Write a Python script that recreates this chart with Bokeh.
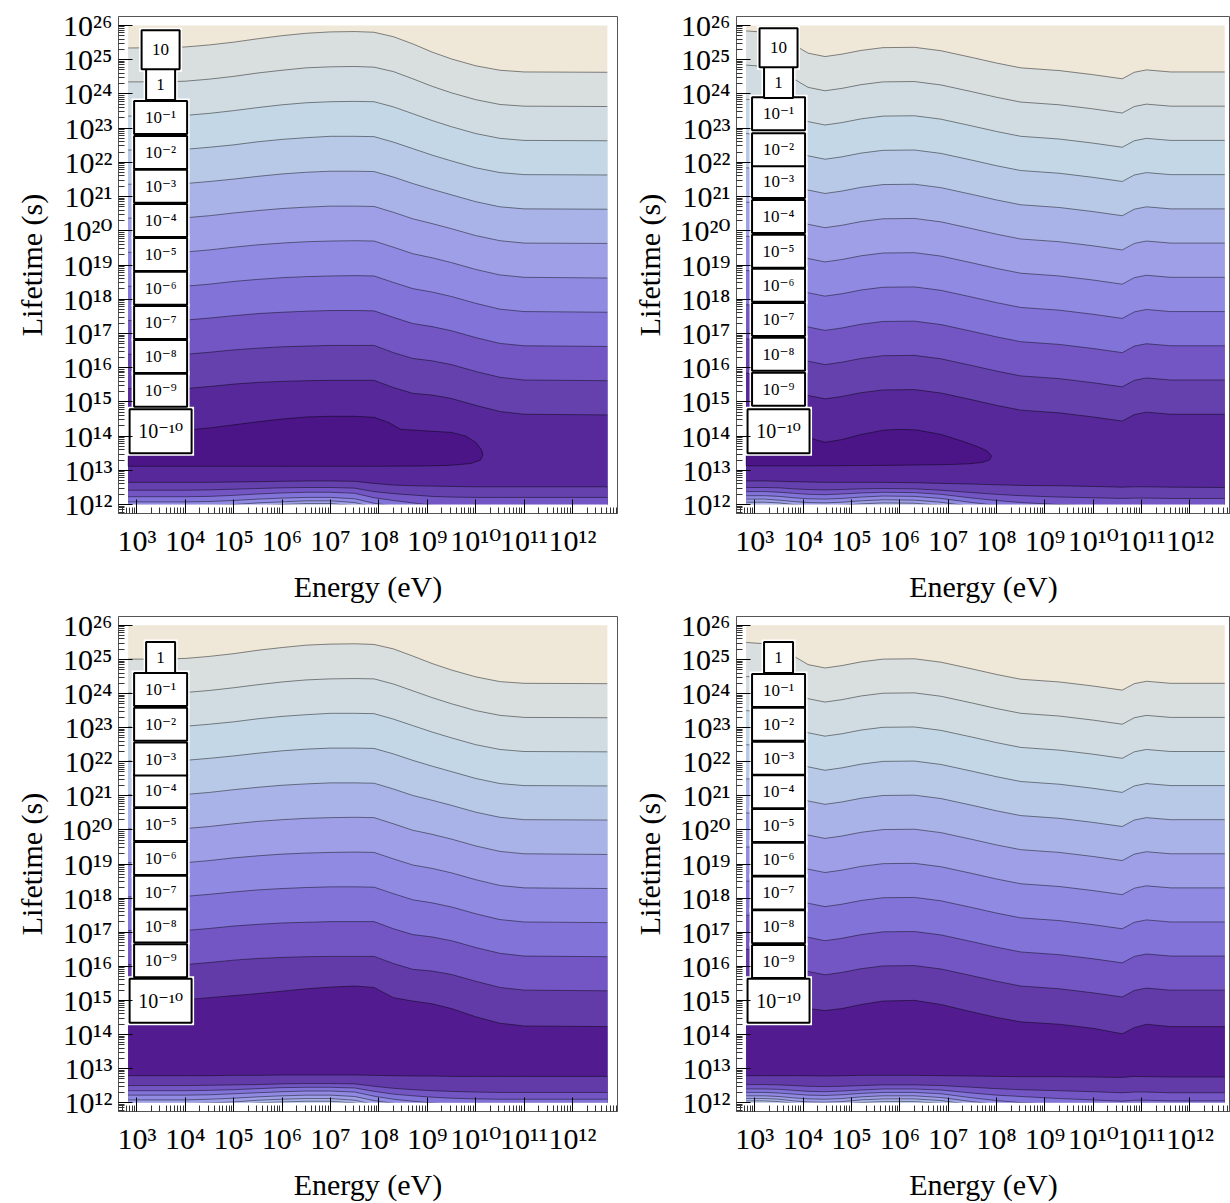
import numpy as np
from bokeh.plotting import figure
from bokeh.layouts import column, row
from bokeh.models import Range1d, FixedTicker, ColumnDataSource
from bokeh.embed import file_html
from bokeh.resources import INLINE
from bokeh.core.properties import value

# ---------------- data: log10(Energy / eV) and log10(Lifetime / s) -------------
E_A = [2.82, 3.5, 4.0, 4.5, 5.0, 5.5, 6.0, 6.5, 7.0, 7.5, 7.9, 8.3, 8.7, 9.1, 9.5, 10.0, 10.5, 11.0, 12.72]

# panel 1 (top left): upper contour branches, levels 10, 1, 1e-1 ... 1e-9
P1_UPPER = [
    [25.34, 25.35, 25.37, 25.43, 25.51, 25.61, 25.70, 25.77, 25.81, 25.82, 25.80, 25.67, 25.46, 25.22, 25.02, 24.82, 24.69, 24.64, 24.63],
    [24.35, 24.35, 24.37, 24.43, 24.51, 24.61, 24.69, 24.76, 24.79, 24.80, 24.78, 24.65, 24.44, 24.22, 24.03, 23.83, 23.69, 23.64, 23.63],
    [23.35, 23.36, 23.37, 23.43, 23.51, 23.60, 23.68, 23.74, 23.77, 23.78, 23.77, 23.62, 23.42, 23.22, 23.04, 22.84, 22.70, 22.64, 22.63],
    [22.36, 22.36, 22.38, 22.44, 22.51, 22.60, 22.67, 22.72, 22.76, 22.76, 22.75, 22.59, 22.40, 22.21, 22.04, 21.84, 21.70, 21.64, 21.63],
    [21.36, 21.37, 21.38, 21.44, 21.51, 21.59, 21.66, 21.71, 21.74, 21.74, 21.73, 21.57, 21.38, 21.21, 21.05, 20.85, 20.70, 20.64, 20.63],
    [20.37, 20.37, 20.38, 20.44, 20.52, 20.59, 20.65, 20.69, 20.72, 20.72, 20.71, 20.54, 20.35, 20.21, 20.06, 19.86, 19.71, 19.64, 19.63],
    [19.37, 19.37, 19.38, 19.44, 19.52, 19.59, 19.64, 19.68, 19.70, 19.71, 19.70, 19.52, 19.33, 19.21, 19.07, 18.87, 18.71, 18.64, 18.62],
    [18.38, 18.38, 18.38, 18.44, 18.52, 18.58, 18.63, 18.66, 18.68, 18.69, 18.68, 18.49, 18.31, 18.21, 18.08, 17.88, 17.71, 17.64, 17.62],
    [17.38, 17.38, 17.39, 17.45, 17.52, 17.58, 17.62, 17.65, 17.67, 17.67, 17.66, 17.47, 17.29, 17.20, 17.08, 16.88, 16.71, 16.64, 16.62],
    [16.39, 16.39, 16.39, 16.45, 16.52, 16.57, 16.61, 16.63, 16.65, 16.65, 16.65, 16.44, 16.27, 16.20, 16.09, 15.89, 15.72, 15.64, 15.62],
    [15.39, 15.39, 15.39, 15.45, 15.52, 15.57, 15.60, 15.62, 15.63, 15.63, 15.63, 15.42, 15.25, 15.20, 15.10, 14.90, 14.72, 14.64, 14.62],
]
# panel 1: closed 1e-10 contour
P1_BLOB_E = [2.82, 3.5, 4.0, 4.5, 5.0, 5.5, 6.0, 6.5, 7.0, 7.5, 7.9, 8.2, 8.45, 9.0, 9.5, 9.8, 10.0, 10.12, 10.15,
             10.1, 9.9, 9.5, 9.0, 8.0, 6.0, 4.0, 2.82]
P1_BLOB_T = [14.16, 14.16, 14.17, 14.24, 14.33, 14.42, 14.50, 14.56, 14.58, 14.58, 14.55, 14.40, 14.20, 14.15, 14.11, 14.00, 13.82, 13.60, 13.45,
             13.30, 13.20, 13.15, 13.13, 13.12, 13.12, 13.12, 13.12]
# panel 1: lower contour branches, levels 1e-9 ... 1e-4
P1_LOWER = [
    [12.65, 12.65, 12.65, 12.65, 12.66, 12.67, 12.68, 12.69, 12.69, 12.68, 12.62, 12.57, 12.55, 12.54, 12.53, 12.52, 12.52, 12.52, 12.52],
    [12.42, 12.42, 12.42, 12.43, 12.45, 12.47, 12.49, 12.50, 12.50, 12.48, 12.38, 12.32, 12.28, 12.24, 12.22, 12.21, 12.21, 12.21, 12.21],
    [12.23, 12.23, 12.23, 12.24, 12.27, 12.31, 12.34, 12.36, 12.36, 12.33, 12.20, 12.12, 12.05, 11.98, 11.95, 11.92, 11.90, 11.90, 11.90],
    [12.08, 12.08, 12.08, 12.09, 12.12, 12.16, 12.19, 12.21, 12.21, 12.17, 12.04, 11.96, 11.90, 11.85, 11.80, 11.80, 11.80, 11.80, 11.80],
    [11.95, 11.95, 11.95, 11.97, 12.00, 12.05, 12.08, 12.11, 12.11, 12.06, 11.93, 11.85, 11.80, 11.75, 11.70, 11.70, 11.70, 11.70, 11.70],
    [11.85, 11.85, 11.85, 11.87, 11.91, 11.96, 12.00, 12.03, 12.03, 11.97, 11.85, 11.77, 11.70, 11.65, 11.60, 11.60, 11.60, 11.60, 11.60],
]

# panel 3 (bottom left): upper branches, levels 1, 1e-1 ... 1e-10
P3_UPPER = [
    [25.01, 25.01, 25.03, 25.09, 25.17, 25.27, 25.35, 25.42, 25.45, 25.46, 25.44, 25.31, 25.10, 24.88, 24.69, 24.49, 24.35, 24.30, 24.29],
    [24.01, 24.02, 24.03, 24.09, 24.17, 24.26, 24.34, 24.40, 24.43, 24.44, 24.43, 24.28, 24.08, 23.88, 23.70, 23.50, 23.36, 23.30, 23.29],
    [23.02, 23.02, 23.04, 23.10, 23.17, 23.26, 23.33, 23.38, 23.42, 23.42, 23.41, 23.25, 23.06, 22.87, 22.70, 22.50, 22.36, 22.30, 22.29],
    [22.02, 22.03, 22.04, 22.10, 22.17, 22.25, 22.32, 22.37, 22.40, 22.40, 22.39, 22.23, 22.04, 21.87, 21.71, 21.51, 21.36, 21.30, 21.29],
    [21.03, 21.03, 21.04, 21.10, 21.18, 21.25, 21.31, 21.35, 21.38, 21.38, 21.37, 21.20, 21.01, 20.87, 20.72, 20.52, 20.37, 20.30, 20.29],
    [20.03, 20.03, 20.04, 20.10, 20.18, 20.25, 20.30, 20.34, 20.36, 20.37, 20.36, 20.18, 19.99, 19.87, 19.73, 19.53, 19.37, 19.30, 19.28],
    [19.04, 19.04, 19.04, 19.10, 19.18, 19.24, 19.29, 19.32, 19.34, 19.35, 19.34, 19.15, 18.97, 18.87, 18.74, 18.54, 18.37, 18.30, 18.28],
    [18.04, 18.04, 18.05, 18.11, 18.18, 18.24, 18.28, 18.31, 18.33, 18.33, 18.32, 18.13, 17.95, 17.86, 17.74, 17.54, 17.37, 17.30, 17.28],
    [17.05, 17.05, 17.05, 17.11, 17.18, 17.23, 17.27, 17.29, 17.31, 17.31, 17.31, 17.10, 16.93, 16.86, 16.75, 16.55, 16.38, 16.30, 16.28],
    [16.05, 16.05, 16.05, 16.11, 16.18, 16.23, 16.26, 16.28, 16.29, 16.29, 16.29, 16.08, 15.91, 15.86, 15.76, 15.56, 15.38, 15.30, 15.28],
    [15.00, 15.00, 15.02, 15.08, 15.14, 15.20, 15.27, 15.34, 15.39, 15.42, 15.38, 15.08, 14.98, 14.90, 14.76, 14.52, 14.33, 14.25, 14.23],
]
# panel 3: lower branches, levels 1e-10 ... 1e-4
P3_LOWER = [
    [12.79, 12.79, 12.79, 12.79, 12.80, 12.80, 12.81, 12.81, 12.81, 12.81, 12.80, 12.79, 12.78, 12.78, 12.77, 12.77, 12.77, 12.77, 12.77],
    [12.50, 12.50, 12.50, 12.51, 12.52, 12.53, 12.55, 12.56, 12.56, 12.55, 12.48, 12.42, 12.38, 12.35, 12.33, 12.31, 12.30, 12.30, 12.30],
    [12.35, 12.35, 12.35, 12.36, 12.38, 12.41, 12.44, 12.45, 12.45, 12.43, 12.33, 12.25, 12.20, 12.16, 12.13, 12.11, 12.10, 12.10, 12.10],
    [12.22, 12.22, 12.22, 12.23, 12.26, 12.29, 12.32, 12.34, 12.34, 12.31, 12.19, 12.10, 12.04, 11.99, 11.96, 11.95, 11.95, 11.95, 11.95],
    [12.08, 12.08, 12.08, 12.10, 12.13, 12.17, 12.20, 12.22, 12.22, 12.18, 12.06, 11.98, 11.90, 11.85, 11.80, 11.80, 11.80, 11.80, 11.80],
    [11.97, 11.97, 11.97, 11.99, 12.02, 12.07, 12.10, 12.12, 12.12, 12.07, 11.95, 11.87, 11.80, 11.75, 11.70, 11.70, 11.70, 11.70, 11.70],
    [11.88, 11.88, 11.88, 11.90, 11.94, 11.99, 12.02, 12.04, 12.04, 11.99, 11.86, 11.78, 11.70, 11.65, 11.60, 11.60, 11.60, 11.60, 11.60],
]

E_B = [2.82, 3.2, 3.5, 3.8, 4.1, 4.45, 4.8, 5.2, 5.65, 6.3, 6.85, 7.5, 8.0, 8.5, 9.3, 10.0, 10.6, 10.85, 11.1, 11.6, 12.72]

# panel 2 (top right): upper branches, levels 10, 1, 1e-1 ... 1e-9
P2_UPPER = [
    [25.84, 25.80, 25.67, 25.44, 25.19, 25.09, 25.16, 25.27, 25.35, 25.36, 25.26, 25.06, 24.90, 24.76, 24.68, 24.56, 24.44, 24.63, 24.70, 24.64, 24.64],
    [24.84, 24.80, 24.67, 24.44, 24.19, 24.09, 24.16, 24.27, 24.35, 24.36, 24.26, 24.06, 23.90, 23.76, 23.68, 23.56, 23.44, 23.63, 23.70, 23.64, 23.64],
    [23.84, 23.80, 23.67, 23.44, 23.19, 23.09, 23.16, 23.27, 23.35, 23.36, 23.26, 23.06, 22.90, 22.76, 22.68, 22.56, 22.44, 22.63, 22.70, 22.64, 22.64],
    [22.84, 22.80, 22.67, 22.44, 22.19, 22.09, 22.16, 22.27, 22.35, 22.36, 22.26, 22.06, 21.90, 21.76, 21.68, 21.56, 21.44, 21.63, 21.70, 21.64, 21.64],
    [21.84, 21.80, 21.67, 21.44, 21.19, 21.09, 21.16, 21.27, 21.35, 21.36, 21.26, 21.06, 20.90, 20.76, 20.68, 20.56, 20.44, 20.63, 20.70, 20.64, 20.64],
    [20.84, 20.80, 20.67, 20.44, 20.19, 20.09, 20.16, 20.27, 20.35, 20.36, 20.26, 20.06, 19.90, 19.76, 19.68, 19.56, 19.44, 19.63, 19.70, 19.64, 19.64],
    [19.84, 19.80, 19.67, 19.44, 19.19, 19.09, 19.16, 19.27, 19.35, 19.36, 19.26, 19.06, 18.90, 18.76, 18.68, 18.56, 18.44, 18.63, 18.70, 18.64, 18.64],
    [18.84, 18.80, 18.67, 18.44, 18.19, 18.09, 18.16, 18.27, 18.35, 18.36, 18.26, 18.06, 17.90, 17.76, 17.68, 17.56, 17.44, 17.63, 17.70, 17.64, 17.64],
    [17.84, 17.80, 17.67, 17.44, 17.19, 17.09, 17.16, 17.27, 17.35, 17.36, 17.26, 17.06, 16.90, 16.76, 16.68, 16.56, 16.44, 16.63, 16.70, 16.64, 16.64],
    [16.84, 16.80, 16.67, 16.44, 16.19, 16.09, 16.16, 16.27, 16.35, 16.36, 16.26, 16.06, 15.90, 15.76, 15.68, 15.56, 15.44, 15.63, 15.70, 15.64, 15.64],
    [15.84, 15.80, 15.67, 15.44, 15.19, 15.09, 15.16, 15.27, 15.35, 15.36, 15.26, 15.06, 14.90, 14.76, 14.68, 14.56, 14.44, 14.63, 14.70, 14.64, 14.64],
]
P2_BLOB_E = [2.82, 3.2, 3.5, 3.8, 4.1, 4.45, 4.8, 5.2, 5.65, 6.0, 6.35, 6.85, 7.3, 7.6, 7.8, 7.9,
             7.85, 7.7, 7.4, 7.0, 6.0, 5.0, 4.0, 2.82]
P2_BLOB_T = [14.05, 14.05, 14.02, 14.00, 13.96, 13.82, 13.90, 14.05, 14.17, 14.20, 14.18, 14.05, 13.85, 13.70, 13.57, 13.42,
             13.30, 13.23, 13.19, 13.17, 13.15, 13.14, 13.13, 13.13]
P2_LOWER = [
    [12.69, 12.69, 12.68, 12.67, 12.66, 12.65, 12.65, 12.65, 12.65, 12.64, 12.62, 12.60, 12.58, 12.56, 12.55, 12.53, 12.51, 12.52, 12.52, 12.51, 12.50],
    [12.50, 12.50, 12.49, 12.46, 12.44, 12.43, 12.44, 12.46, 12.47, 12.46, 12.42, 12.35, 12.30, 12.26, 12.22, 12.20, 12.18, 12.19, 12.19, 12.18, 12.18],
    [12.38, 12.38, 12.36, 12.33, 12.30, 12.29, 12.31, 12.34, 12.36, 12.35, 12.30, 12.19, 12.12, 12.06, 12.00, 11.96, 11.93, 11.93, 11.93, 11.93, 11.93],
    [12.26, 12.26, 12.24, 12.20, 12.17, 12.16, 12.18, 12.22, 12.25, 12.24, 12.18, 12.06, 11.98, 11.92, 11.86, 11.82, 11.80, 11.80, 11.80, 11.80, 11.80],
    [12.16, 12.16, 12.13, 12.09, 12.06, 12.05, 12.07, 12.11, 12.14, 12.13, 12.07, 11.95, 11.87, 11.80, 11.75, 11.70, 11.70, 11.70, 11.70, 11.70, 11.70],
    [12.07, 12.07, 12.05, 12.00, 11.97, 11.96, 11.98, 12.02, 12.05, 12.04, 11.98, 11.86, 11.78, 11.70, 11.65, 11.60, 11.60, 11.60, 11.60, 11.60, 11.60],
]

# panel 4 (bottom right): upper branches, levels 1, 1e-1 ... 1e-10
P4_UPPER = [
    [25.50, 25.46, 25.33, 25.10, 24.85, 24.75, 24.82, 24.93, 25.01, 25.02, 24.92, 24.72, 24.56, 24.42, 24.34, 24.22, 24.10, 24.29, 24.36, 24.30, 24.30],
    [24.50, 24.46, 24.33, 24.10, 23.85, 23.75, 23.82, 23.93, 24.01, 24.02, 23.92, 23.72, 23.56, 23.42, 23.34, 23.22, 23.10, 23.29, 23.36, 23.30, 23.30],
    [23.50, 23.46, 23.33, 23.10, 22.85, 22.75, 22.82, 22.93, 23.01, 23.02, 22.92, 22.72, 22.56, 22.42, 22.34, 22.22, 22.10, 22.29, 22.36, 22.30, 22.30],
    [22.50, 22.46, 22.33, 22.10, 21.85, 21.75, 21.82, 21.93, 22.01, 22.02, 21.92, 21.72, 21.56, 21.42, 21.34, 21.22, 21.10, 21.29, 21.36, 21.30, 21.30],
    [21.50, 21.46, 21.33, 21.10, 20.85, 20.75, 20.82, 20.93, 21.01, 21.02, 20.92, 20.72, 20.56, 20.42, 20.34, 20.22, 20.10, 20.29, 20.36, 20.30, 20.30],
    [20.50, 20.46, 20.33, 20.10, 19.85, 19.75, 19.82, 19.93, 20.01, 20.02, 19.92, 19.72, 19.56, 19.42, 19.34, 19.22, 19.10, 19.29, 19.36, 19.30, 19.30],
    [19.50, 19.46, 19.33, 19.10, 18.85, 18.75, 18.82, 18.93, 19.01, 19.02, 18.92, 18.72, 18.56, 18.42, 18.34, 18.22, 18.10, 18.29, 18.36, 18.30, 18.30],
    [18.50, 18.46, 18.33, 18.10, 17.85, 17.75, 17.82, 17.93, 18.01, 18.02, 17.92, 17.72, 17.56, 17.42, 17.34, 17.22, 17.10, 17.29, 17.36, 17.30, 17.30],
    [17.50, 17.46, 17.33, 17.10, 16.85, 16.75, 16.82, 16.93, 17.01, 17.02, 16.92, 16.72, 16.56, 16.42, 16.34, 16.22, 16.10, 16.29, 16.36, 16.30, 16.30],
    [16.50, 16.46, 16.33, 16.10, 15.85, 15.75, 15.82, 15.93, 16.01, 16.02, 15.92, 15.72, 15.56, 15.42, 15.34, 15.22, 15.10, 15.29, 15.36, 15.30, 15.30],
    [15.30, 15.25, 15.15, 14.95, 14.76, 14.70, 14.76, 14.88, 14.98, 15.00, 14.88, 14.66, 14.50, 14.37, 14.30, 14.18, 14.02, 14.20, 14.30, 14.23, 14.23],
]
P4_LOWER = [
    [12.79, 12.79, 12.79, 12.79, 12.79, 12.78, 12.79, 12.80, 12.80, 12.80, 12.79, 12.78, 12.77, 12.76, 12.76, 12.75, 12.74, 12.77, 12.76, 12.75, 12.75],
    [12.53, 12.53, 12.52, 12.50, 12.48, 12.47, 12.48, 12.50, 12.52, 12.52, 12.50, 12.45, 12.41, 12.38, 12.35, 12.32, 12.29, 12.31, 12.31, 12.29, 12.29],
    [12.40, 12.40, 12.39, 12.36, 12.33, 12.32, 12.34, 12.37, 12.40, 12.40, 12.37, 12.28, 12.22, 12.18, 12.12, 12.08, 12.04, 12.07, 12.07, 12.05, 12.05],
    [12.30, 12.30, 12.28, 12.25, 12.22, 12.21, 12.23, 12.27, 12.30, 12.30, 12.26, 12.14, 12.06, 12.00, 11.95, 11.90, 11.88, 11.90, 11.90, 11.90, 11.90],
    [12.20, 12.20, 12.18, 12.14, 12.11, 12.10, 12.12, 12.17, 12.20, 12.20, 12.15, 12.03, 11.95, 11.90, 11.85, 11.80, 11.80, 11.80, 11.80, 11.80, 11.80],
    [12.12, 12.12, 12.10, 12.05, 12.02, 12.01, 12.03, 12.08, 12.11, 12.11, 12.06, 11.94, 11.86, 11.80, 11.75, 11.70, 11.70, 11.70, 11.70, 11.70, 11.70],
    [12.05, 12.05, 12.03, 11.98, 11.95, 11.94, 11.96, 12.00, 12.03, 12.03, 11.98, 11.86, 11.78, 11.70, 11.65, 11.60, 11.60, 11.60, 11.60, 11.60, 11.60],
]

# contour label exponents and label positions (log10 lifetime at label centre)
LEVELS_TOP = [1, 0, -1, -2, -3, -4, -5, -6, -7, -8, -9, -10]
LEVELS_BOTTOM = [0, -1, -2, -3, -4, -5, -6, -7, -8, -9, -10]
LABEL_E = 3.49
P1_LABEL_T = [25.29, 24.27, 23.31, 22.29, 21.30, 20.30, 19.31, 18.32, 17.32, 16.33, 15.34, 14.14]
P2_LABEL_T = [25.35, 24.33, 23.42, 22.37, 21.44, 20.42, 19.40, 18.41, 17.41, 16.39, 15.37, 14.14]
P3_LABEL_T = [25.06, 24.12, 23.10, 22.08, 21.15, 20.16, 19.16, 18.17, 17.18, 16.16, 14.99]
P4_LABEL_T = [25.06, 24.09, 23.10, 22.10, 21.12, 20.13, 19.14, 18.15, 17.16, 16.14, 14.99]

X_TICKS = list(range(3, 13))
Y_TICKS = list(range(12, 27))

PAL_A = ["#EFE7D7", "#D9DEDE", "#D1DCE2", "#C4D7E6", "#B8C9E8", "#AAB3E8", "#9E9FE6",
         "#918AE2", "#8273D9", "#7356C4", "#6441AD", "#562899", "#4B1587"]
PAL_B = ["#EFE7D7", "#D9DEDE", "#D1DCE2", "#C4D7E6", "#B8C9E8", "#AAB3E8", "#9E9FE6",
         "#918AE2", "#8273D9", "#7356C4", "#633BA9", "#521C90"]

FONT = "Liberation Serif, DejaVu Serif"
SUP = str.maketrans("0123456789-", "⁰¹²³⁴⁵⁶⁷⁸⁹⁻")


def pow_label(n):
    return "10" + str(n).translate(SUP)


def level_label(n):
    if n == 0:
        return "1"
    if n == 1:
        return "10"
    return pow_label(n)


E_MIN, E_MAX, T_MIN, T_MAX = 2.82, 12.72, 12.0, 26.0


def make_fig(w, h, left, top, bottom, right, x_end):
    p = figure(width=w, height=h, x_range=Range1d(2.62, x_end), y_range=Range1d(11.74, 26.26),
               output_backend="svg", toolbar_location=None,
               min_border_left=left, min_border_right=right, min_border_top=top, min_border_bottom=bottom)
    p.xgrid.visible = False
    p.ygrid.visible = False
    p.background_fill_color = "white"
    p.border_fill_color = "white"
    p.outline_line_color = "#555555"
    p.outline_line_width = 1
    xminor = [n + np.log10(m) for n in range(2, 13) for m in range(2, 10)]
    xminor = [float(v) for v in xminor if 2.62 < v < x_end]
    yminor = [float(n + np.log10(m)) for n in range(11, 26) for m in range(2, 10)]
    yminor = [v for v in yminor if 11.74 < v < 26.26]
    p.xaxis.ticker = FixedTicker(ticks=X_TICKS, minor_ticks=xminor)
    p.yaxis.ticker = FixedTicker(ticks=Y_TICKS, minor_ticks=yminor)
    p.xaxis.major_label_overrides = {t: pow_label(t) for t in X_TICKS}
    p.yaxis.major_label_overrides = {t: pow_label(t) for t in Y_TICKS}
    p.xaxis.axis_label = "Energy (eV)"
    p.yaxis.axis_label = "Lifetime (s)"
    for ax in (p.xaxis[0], p.yaxis[0]):
        ax.major_tick_in = 14
        ax.major_tick_out = 0
        ax.minor_tick_in = 6
        ax.minor_tick_out = 0
        ax.major_tick_line_color = "black"
        ax.minor_tick_line_color = "#333333"
        ax.axis_line_color = "#555555"
        ax.major_label_text_font = FONT
        ax.major_label_text_font_size = "30px"
        ax.major_label_text_color = "black"
        ax.axis_label_text_font = FONT
        ax.axis_label_text_font_size = "30px"
        ax.axis_label_text_font_style = "normal"
        ax.axis_label_text_color = "black"
    p.xaxis.major_label_standoff = 10
    p.xaxis.axis_label_standoff = 10
    p.yaxis.major_label_standoff = 6
    p.yaxis.axis_label_standoff = 10
    return p


def draw_panel(p, E, upper, lower, pal, blob_e=None, blob_t=None, levels=None, label_t=None):
    E = np.array(E, dtype=float)
    floor = np.full(len(E), T_MIN)
    p.varea(x=E, y1=floor, y2=np.full(len(E), T_MAX), fill_color=pal[0])
    for k, line in enumerate(upper):
        p.varea(x=E, y1=floor, y2=np.clip(np.array(line), T_MIN, T_MAX), fill_color=pal[k + 1])
    n = len(upper)
    if blob_e is not None:
        p.patch(blob_e, blob_t, fill_color=pal[n + 1], line_color="black", line_alpha=0.45, line_width=1)
    for j, line in enumerate(lower):
        p.varea(x=E, y1=floor, y2=np.clip(np.array(line), T_MIN, T_MAX), fill_color=pal[n - 1 - j])
    all_lines = list(upper) + list(lower)
    p.multi_line(xs=[list(E)] * len(all_lines), ys=all_lines, line_color="black", line_alpha=0.45, line_width=1)
    # blank strip under the plotted domain (frame padding)
    p.quad(left=E_MIN, right=E_MAX, bottom=11.0, top=T_MIN, fill_color="white", line_color=None)

    # contour labels, drawn bottom-up so upper boxes overlap lower ones
    texts = [level_label(n_) for n_ in levels][::-1]
    ys = list(label_t)[::-1]
    widths, heights, sizes = [], [], []
    for t in texts:
        if t == "1":
            widths.append(29); heights.append(31); sizes.append("17px")
        elif t == "10":
            widths.append(38); heights.append(39); sizes.append("17px")
        elif t == pow_label(-10):
            widths.append(62); heights.append(44); sizes.append("20px")
        else:
            widths.append(53); heights.append(33); sizes.append("17px")
    src = ColumnDataSource(dict(x=[LABEL_E] * len(texts), y=ys, text=texts, w=widths, h=heights,
                                hw=[w + 5 for w in widths], hh=[h + 5 for h in heights], fs=sizes))
    p.rect(x="x", y="y", width="hw", height="hh", width_units="screen", height_units="screen",
           source=src, fill_color="white", line_color=None)
    p.rect(x="x", y="y", width="w", height="h", width_units="screen", height_units="screen",
           source=src, fill_color="white", line_color="black", line_width=2)
    p.text(x="x", y="y", text="text", source=src, text_font=value(FONT), text_font_size="fs",
           text_align="center", text_baseline="middle", text_color="black")


# page has no margin: frames at x=118 / 736 and y=16 / 616
p1 = make_fig(626, 608, 118, 16, 95, 9, 12.93)
draw_panel(p1, E_A, P1_UPPER, P1_LOWER, PAL_A, P1_BLOB_E, P1_BLOB_T, LEVELS_TOP, P1_LABEL_T)
p2 = make_fig(604, 608, 110, 16, 95, 0, 12.84)
draw_panel(p2, E_B, P2_UPPER, P2_LOWER, PAL_A, P2_BLOB_E, P2_BLOB_T, LEVELS_TOP, P2_LABEL_T)
p3 = make_fig(626, 595, 118, 8, 90, 9, 12.93)
draw_panel(p3, E_A, P3_UPPER, P3_LOWER, PAL_B, None, None, LEVELS_BOTTOM, P3_LABEL_T)
p4 = make_fig(604, 595, 110, 8, 90, 0, 12.84)
draw_panel(p4, E_B, P4_UPPER, P4_LOWER, PAL_B, None, None, LEVELS_BOTTOM, P4_LABEL_T)

layout = column(row(p1, p2), row(p3, p4))
open("out.html", "w").write(file_html(layout, INLINE))
